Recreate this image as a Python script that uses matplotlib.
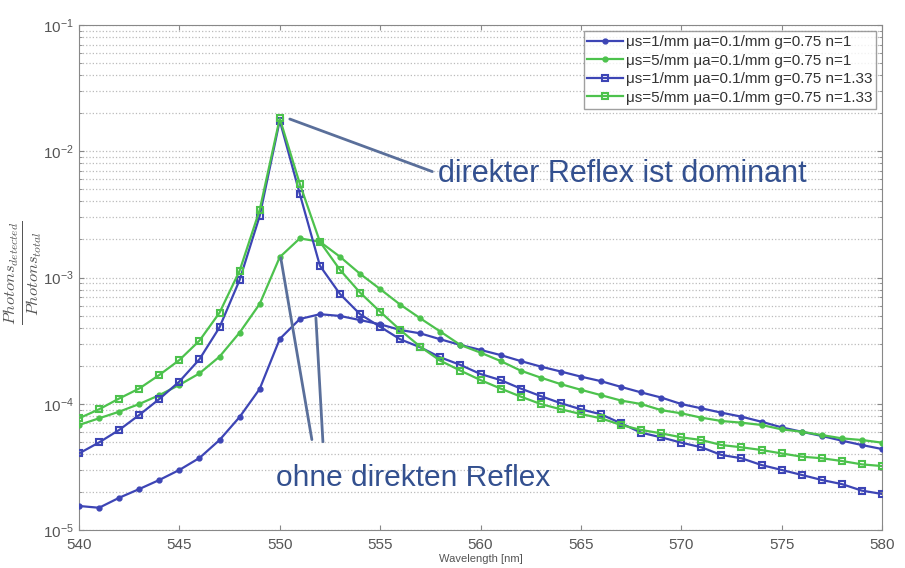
import numpy as np
import matplotlib
matplotlib.use('Agg')
import matplotlib.pyplot as plt

# wavelength axis, 540..580 nm in 1 nm steps
wavelength = list(range(540, 581))

# mus=1/mm mua=0.1/mm g=0.75 n=1
s1 = [1.55e-5, 1.50e-5, 1.80e-5, 2.11e-5, 2.49e-5, 2.99e-5, 3.72e-5, 5.16e-5, 7.85e-5, 1.31e-4,
      3.26e-4, 4.69e-4, 5.12e-4, 4.96e-4, 4.60e-4, 4.26e-4, 3.84e-4, 3.61e-4, 3.24e-4, 2.92e-4,
      2.67e-4, 2.43e-4, 2.18e-4, 1.97e-4, 1.80e-4, 1.64e-4, 1.51e-4, 1.36e-4, 1.23e-4, 1.12e-4,
      9.95e-5, 9.20e-5, 8.50e-5, 7.90e-5, 7.20e-5, 6.50e-5, 6.00e-5, 5.56e-5, 5.10e-5, 4.71e-5,
      4.38e-5]
# mus=5/mm mua=0.1/mm g=0.75 n=1
s2 = [6.79e-5, 7.67e-5, 8.65e-5, 9.95e-5, 1.17e-4, 1.41e-4, 1.74e-4, 2.36e-4, 3.66e-4, 6.17e-4,
      1.45e-3, 2.04e-3, 1.92e-3, 1.46e-3, 1.07e-3, 8.10e-4, 6.10e-4, 4.75e-4, 3.73e-4, 2.92e-4,
      2.54e-4, 2.18e-4, 1.83e-4, 1.61e-4, 1.43e-4, 1.29e-4, 1.17e-4, 1.06e-4, 9.95e-5, 8.90e-5,
      8.40e-5, 7.76e-5, 7.30e-5, 7.08e-5, 6.79e-5, 6.27e-5, 6.00e-5, 5.65e-5, 5.32e-5, 5.16e-5,
      4.92e-5]
# mus=1/mm mua=0.1/mm g=0.75 n=1.33
s3 = [4.04e-5, 4.94e-5, 6.20e-5, 8.15e-5, 1.09e-4, 1.50e-4, 2.25e-4, 4.03e-4, 9.55e-4, 3.07e-3,
      1.75e-2, 4.58e-3, 1.24e-3, 7.40e-4, 5.12e-4, 4.07e-4, 3.24e-4, 2.80e-4, 2.33e-4, 2.03e-4,
      1.72e-4, 1.54e-4, 1.32e-4, 1.15e-4, 1.01e-4, 9.04e-5, 8.25e-5, 7.00e-5, 5.90e-5, 5.42e-5,
      4.92e-5, 4.52e-5, 3.93e-5, 3.70e-5, 3.27e-5, 2.99e-5, 2.73e-5, 2.49e-5, 2.31e-5, 2.05e-5,
      1.93e-5]
# mus=5/mm mua=0.1/mm g=0.75 n=1.33
s4 = [7.67e-5, 9.04e-5, 1.10e-4, 1.32e-4, 1.69e-4, 2.22e-4, 3.16e-4, 5.26e-4, 1.13e-3, 3.43e-3,
      1.82e-2, 5.51e-3, 1.92e-3, 1.15e-3, 7.59e-4, 5.36e-4, 3.84e-4, 2.83e-4, 2.19e-4, 1.83e-4,
      1.54e-4, 1.32e-4, 1.14e-4, 9.95e-5, 9.04e-5, 8.29e-5, 7.67e-5, 6.79e-5, 6.20e-5, 5.83e-5,
      5.42e-5, 5.16e-5, 4.71e-5, 4.52e-5, 4.30e-5, 4.04e-5, 3.81e-5, 3.70e-5, 3.52e-5, 3.31e-5,
      3.21e-5]

labels = ['\u03bcs=1/mm \u03bca=0.1/mm g=0.75 n=1',
          '\u03bcs=5/mm \u03bca=0.1/mm g=0.75 n=1',
          '\u03bcs=1/mm \u03bca=0.1/mm g=0.75 n=1.33',
          '\u03bcs=5/mm \u03bca=0.1/mm g=0.75 n=1.33']

blue = '#3d45b5'
green = '#4dc24d'
note = '#33508f'
grey = '#555555'
linec = '#5a6f9a'

plt.rcParams['font.family'] = ['Liberation Sans', 'DejaVu Sans']
plt.rcParams['mathtext.fontset'] = 'cm'

fig = plt.figure(figsize=(9.05, 5.68), dpi=100)
ax = fig.add_axes([79/905, 1-530/568, (882-79)/905, (530-25)/568])

ax.plot(wavelength, s1, color=blue, marker='o', ms=3.5, lw=1.6, label=labels[0], zorder=3)
ax.plot(wavelength, s2, color=green, marker='o', ms=3.5, lw=1.6, label=labels[1], zorder=3)
ax.plot(wavelength, s3, color=blue, marker='s', ms=5, mfc='none', mew=1.5, lw=1.6, label=labels[2], zorder=3)
ax.plot(wavelength, s4, color=green, marker='s', ms=5, mfc='none', mew=1.5, lw=1.6, label=labels[3], zorder=3)

ax.set_yscale('log')
ax.set_xlim(540, 580)
ax.set_ylim(1e-5, 1e-1)
ax.set_xticks(range(540, 581, 5))
ax.grid(True, which='both', axis='y', color='#bbbbbb', ls=':', lw=0.9)
ax.tick_params(which='both', direction='in', top=True, right=True, colors='#888888',
               labelcolor=grey, labelsize=11)
ax.tick_params(axis='x', pad=6)
for sp in ax.spines.values():
    sp.set_color('#888888')

ax.set_xlabel('Wavelength [nm]', fontsize=8, color=grey, labelpad=1)
ax.set_ylabel(r'$\frac{Photons_{detected}}{Photons_{total}}$', fontsize=17, color=grey)
ax.yaxis.set_label_coords(-0.043, 0.51)

leg = ax.legend(loc='upper right', fontsize=11, frameon=True, fancybox=False,
                borderpad=0.25, labelspacing=0.3, handlelength=2.3, handletextpad=0.2,
                borderaxespad=0.4)
leg.get_frame().set_edgecolor('#888888')
leg.get_frame().set_linewidth(1.0)
for t in leg.get_texts():
    t.set_color('#333333')

# annotations
line_kw = dict(arrowstyle='-', color=linec, lw=2, shrinkA=0, shrinkB=0)
ax.annotate('', xy=(550.5, 1.8e-2), xytext=(557.6, 6.9e-3), arrowprops=line_kw)
ax.text(557.9, 6.6e-3, 'direkter Reflex ist dominant', fontsize=22, color=note, va='center', ha='left')
ax.text(549.8, 2.6e-5, 'ohne direkten Reflex', fontsize=21.5, color=note, va='center', ha='left')
ax.annotate('', xy=(550.05, 1.43e-3), xytext=(551.6, 5.2e-5), arrowprops=line_kw)
ax.annotate('', xy=(551.8, 4.8e-4), xytext=(552.15, 5.0e-5), arrowprops=line_kw)

fig.savefig('out.png', dpi=100, facecolor='white')
